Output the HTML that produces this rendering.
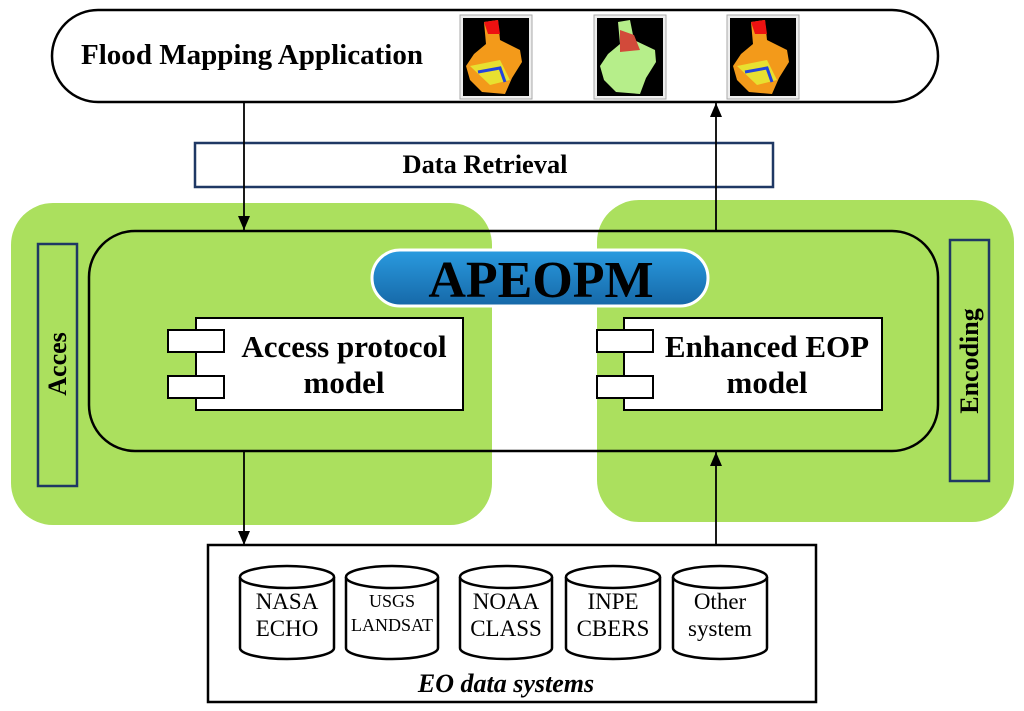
<!DOCTYPE html>
<html><head><meta charset="utf-8"><style>html,body{margin:0;padding:0;background:#fff}svg{display:block}</style></head>
<body>
<svg width="1024" height="711" viewBox="0 0 1024 711" xmlns="http://www.w3.org/2000/svg" font-family="Liberation Serif, serif">
<defs>
<marker id="ah" markerWidth="14" markerHeight="12" refX="14" refY="6" orient="auto" markerUnits="userSpaceOnUse" viewBox="0 0 14 12"><path d="M0,0 L14,6 L0,12 z" fill="#000"/></marker>
<linearGradient id="bg" x1="0" y1="0" x2="0" y2="1"><stop offset="0" stop-color="#2a9be0"/><stop offset="1" stop-color="#1668a8"/></linearGradient>
</defs>
<rect x="11" y="203" width="481" height="322" rx="42" fill="#abe05e"/>
<rect x="597" y="200" width="417" height="322" rx="42" fill="#abe05e"/>
<rect x="52" y="10" width="886" height="92" rx="46" fill="#fff" stroke="#000" stroke-width="2.5"/>
<text x="81" y="64" font-size="28" font-weight="bold" textLength="342" lengthAdjust="spacingAndGlyphs">Flood Mapping Application</text>
<g>
<rect x="460" y="15" width="72" height="84" fill="#eee" stroke="#aaa"/><rect x="463" y="18" width="66" height="78" fill="#000"/>
<path d="M484,22 L498,20 L500,40 L520,50 L522,62 L512,78 L505,94 L482,92 L470,80 L466,66 L474,54 L486,44 z" fill="#f39a1a"/>
<path d="M484,22 L498,20 L500,34 L488,34 z" fill="#e11"/><path d="M470,66 L500,60 L510,80 L490,85 z" fill="#e8e030"/><path d="M478,72 L500,68 L505,82" stroke="#2244dd" stroke-width="3" fill="none"/>
<rect x="594" y="15" width="72" height="84" fill="#eee" stroke="#aaa"/><rect x="597" y="18" width="66" height="78" fill="#000"/>
<path d="M618,22 L630,20 L634,40 L655,50 L656,62 L646,78 L640,94 L616,92 L604,80 L600,66 L608,54 L620,44 z" fill="#b6ee8a"/>
<path d="M620,30 L634,35 L640,50 L620,52 z" fill="#d24a3a"/>
<rect x="727" y="15" width="72" height="84" fill="#eee" stroke="#aaa"/><rect x="730" y="18" width="66" height="78" fill="#000"/>
<path d="M751,22 L765,20 L767,40 L787,50 L789,62 L779,78 L772,94 L749,92 L737,80 L733,66 L741,54 L753,44 z" fill="#f39a1a"/>
<path d="M751,22 L765,20 L767,34 L755,34 z" fill="#e11"/><path d="M737,66 L767,60 L777,80 L757,85 z" fill="#e8e030"/><path d="M745,72 L767,68 L772,82" stroke="#2244dd" stroke-width="3" fill="none"/>
</g>
<rect x="195" y="143" width="578" height="44" fill="#fff" stroke="#1f3864" stroke-width="2.5"/>
<text x="485" y="173" font-size="26" font-weight="bold" text-anchor="middle" textLength="165" lengthAdjust="spacingAndGlyphs">Data Retrieval</text>
<line x1="244" y1="102" x2="244" y2="230" stroke="#000" stroke-width="1.8" marker-end="url(#ah)"/>
<line x1="716" y1="231" x2="716" y2="103" stroke="#000" stroke-width="1.8" marker-end="url(#ah)"/>
<line x1="244" y1="451" x2="244" y2="545" stroke="#000" stroke-width="1.8" marker-end="url(#ah)"/>
<line x1="716" y1="545" x2="716" y2="452" stroke="#000" stroke-width="1.8" marker-end="url(#ah)"/>
<rect x="89" y="231" width="849" height="220" rx="46" fill="none" stroke="#000" stroke-width="2.5"/>
<rect x="372" y="250" width="336" height="56" rx="28" fill="url(#bg)" stroke="#fff" stroke-width="3"/>
<text x="541" y="297" font-size="52" font-weight="bold" text-anchor="middle">APEOPM</text>
<rect x="38" y="244" width="39" height="242" fill="none" stroke="#1f3864" stroke-width="2.5"/>
<text transform="translate(66,364) rotate(-90)" font-size="26" font-weight="bold" text-anchor="middle">Acces</text>
<rect x="950" y="240" width="39" height="241" fill="none" stroke="#1f3864" stroke-width="2.5"/>
<text transform="translate(978,361) rotate(-90)" font-size="26" font-weight="bold" text-anchor="middle">Encoding</text>
<rect x="196" y="318" width="267" height="92" fill="#fff" stroke="#000" stroke-width="2"/>
<rect x="168" y="330" width="56" height="22" fill="#fff" stroke="#000" stroke-width="2"/>
<rect x="168" y="376" width="56" height="22" fill="#fff" stroke="#000" stroke-width="2"/>
<text x="344" y="357" font-size="31" font-weight="bold" text-anchor="middle">Access protocol</text>
<text x="344" y="393" font-size="31" font-weight="bold" text-anchor="middle">model</text>
<rect x="624" y="318" width="258" height="92" fill="#fff" stroke="#000" stroke-width="2"/>
<rect x="597" y="330" width="56" height="22" fill="#fff" stroke="#000" stroke-width="2"/>
<rect x="597" y="376" width="56" height="22" fill="#fff" stroke="#000" stroke-width="2"/>
<text x="767" y="357" font-size="31" font-weight="bold" text-anchor="middle">Enhanced EOP</text>
<text x="767" y="393" font-size="31" font-weight="bold" text-anchor="middle">model</text>
<rect x="208" y="545" width="608" height="157" fill="#fff" stroke="#000" stroke-width="2.5"/>
<g fill="#fff" stroke="#000" stroke-width="2.5">
<path d="M240,577 V648 A47,11 0 0 0 334,648 V577"/><ellipse cx="287" cy="577" rx="47" ry="11"/>
<path d="M346,577 V648 A46,11 0 0 0 438,648 V577"/><ellipse cx="392" cy="577" rx="46" ry="11"/>
<path d="M460,577 V648 A46,11 0 0 0 552,648 V577"/><ellipse cx="506" cy="577" rx="46" ry="11"/>
<path d="M566,577 V648 A47,11 0 0 0 660,648 V577"/><ellipse cx="613" cy="577" rx="47" ry="11"/>
<path d="M673,577 V648 A47,11 0 0 0 767,648 V577"/><ellipse cx="720" cy="577" rx="47" ry="11"/>
</g>
<g font-size="23" text-anchor="middle">
<text x="287" y="609">NASA</text><text x="287" y="636">ECHO</text>
<text x="392" y="607" font-size="18">USGS</text><text x="392" y="631" font-size="18">LANDSAT</text>
<text x="506" y="609">NOAA</text><text x="506" y="636">CLASS</text>
<text x="613" y="609">INPE</text><text x="613" y="636">CBERS</text>
<text x="720" y="609">Other</text><text x="720" y="636">system</text>
</g>
<text x="506" y="692" font-size="26" font-weight="bold" font-style="italic" text-anchor="middle">EO data systems</text>
</svg>
</body></html>
